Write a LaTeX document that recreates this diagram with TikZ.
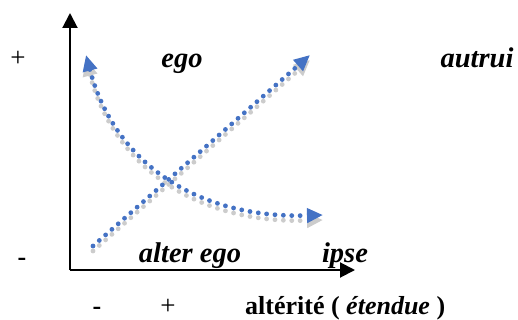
\documentclass[tikz,border=0pt]{standalone}
\usepackage{fontspec}
\setmainfont{Liberation Serif}
\usetikzlibrary{arrows.meta}
\definecolor{dotblue}{RGB}{68,114,196}
\definecolor{dotgray}{RGB}{204,204,204}
\begin{document}
\begin{tikzpicture}[x=1pt, y=-1pt, >=latex]
    \tikzset{
        axis/.style={line width=2pt, -{Triangle[length=15pt, width=15pt]}},
        tip/.tip={Triangle[length=16pt, width=14pt]},
        trend/.style={dotblue, line width=4.8pt, line cap=round, dash pattern=on 0pt off 8.4pt, -tip},
        trendshadow/.style={trend, dotgray, transform canvas={yshift=-5pt}},
        biglbl/.style={anchor=base, inner sep=0pt, font=\fontsize{28.5}{32}\selectfont\bfseries\itshape},
        sign/.style={anchor=base, inner sep=0pt, font=\fontsize{27}{30}\selectfont},
        axlbl/.style={anchor=base west, inner sep=0pt, font=\fontsize{26}{30}\selectfont\bfseries}
    }
    \useasboundingbox (0,0) rectangle (518,320);
    % axes
    \coordinate (O) at (70,270);
    \coordinate (ytop) at (70,13);
    \coordinate (xend) at (355,270);
    \draw[axis] (O) -- (ytop);
    \draw[axis] (O) -- (xend);
    % tendances
    \coordinate (egoA) at (86,55);
    \coordinate (ipseA) at (323,215);
    \coordinate (altA) at (93,246);
    \coordinate (autA) at (310,55);
    \draw[trendshadow, tip-tip] (egoA) .. controls (115,165) and (200,219) .. (ipseA);
    \draw[trendshadow] (altA) -- (autA);
    \draw[trend, tip-tip] (egoA) .. controls (115,165) and (200,219) .. (ipseA);
    \draw[trend] (altA) -- (autA);
    % textes
    \node[sign] (plusy) at (18,67) {+};
    \node[sign, font=\fontsize{26}{30}\selectfont\bfseries] (minusy) at (22,265) {-};
    \node[biglbl] (ego) at (182,68) {ego};
    \node[biglbl] (autrui) at (477,68) {autrui};
    \node[biglbl] (alterego) at (190,262) {alter ego};
    \node[biglbl] (ipse) at (345,262) {ipse};
    \node[sign, font=\fontsize{26}{30}\selectfont\bfseries] (minusx) at (97,314) {-};
    \node[sign] (plusx) at (168,314) {+};
    \node[axlbl] (alterite) at (245,314) {altérité ( \textit{étendue} )};
\end{tikzpicture}
\end{document}
